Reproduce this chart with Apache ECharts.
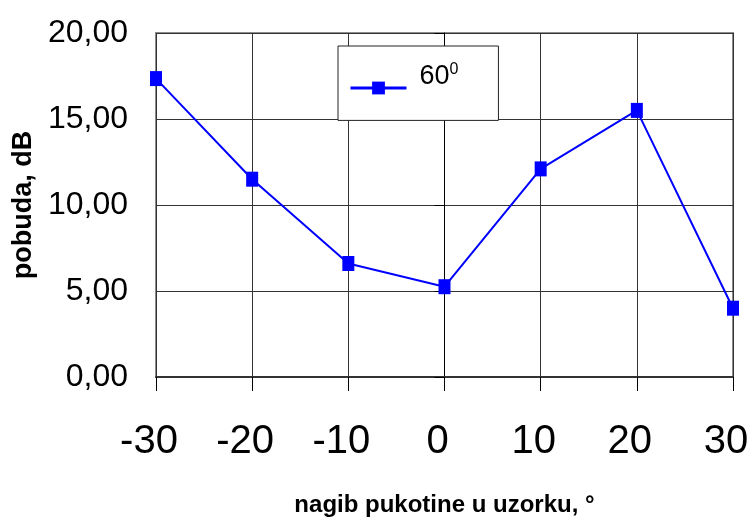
<!DOCTYPE html>
<html>
<head>
<meta charset="utf-8">
<script src="https://cdn.jsdelivr.net/npm/echarts@6/dist/echarts.min.js"></script>
<style>
html,body{margin:0;padding:0;background:#fff;}
#chart{width:749px;height:518px;}
</style>
</head>
<body>
<div id="chart"></div>
<script>
var xValues = [-30, -20, -10, 0, 10, 20, 30];
var yValues = [17.35, 11.5, 6.6, 5.25, 12.1, 15.5, 4.0];
var seriesName = '60';
var xTitle = 'nagib pukotine u uzorku, \u00b0';
var yTitle = 'pobuda, dB';

var chart = echarts.init(document.getElementById('chart'), null, {renderer: 'canvas'});
var FONT = 'Arial, "Liberation Sans", sans-serif';
chart.setOption({
  animation: false,
  backgroundColor: '#ffffff',
  grid: {left: 156, right: 16, top: 33, bottom: 141, show: true, borderColor: '#8c8c8c', borderWidth: 2,
    backgroundColor: 'transparent', containLabel: false, outerBoundsMode: 'none'},
  legend: {
    show: true,
    left: 338, top: 46,
    orient: 'horizontal',
    backgroundColor: '#ffffff',
    borderColor: '#222',
    borderWidth: 1,
    borderRadius: 0,
    padding: [16, 40, 26, 11],
    itemWidth: 56, itemHeight: 16, itemGap: 0,
    lineStyle: {width: 3},
    formatter: function (n) { return '{a|' + n + '}{b|0}'; },
    textStyle: {
      padding: [0, 0, 22, 8],
      rich: {
        a: {fontSize: 27, fontFamily: FONT, color: '#000'},
        b: {fontSize: 16, fontFamily: FONT, color: '#000', padding: [0, 0, 14, 0]}
      }
    },
    data: [{name: seriesName}]
  },
  xAxis: {
    type: 'value', min: -30, max: 30, interval: 10,
    name: xTitle, nameLocation: 'middle', nameGap: 116,
    nameTextStyle: {fontSize: 24, fontWeight: 'bold', fontFamily: FONT, color: '#000'},
    axisLine: {show: true, onZero: false, lineStyle: {color: '#333', width: 2}},
    axisTick: {show: true, inside: false, length: 14, lineStyle: {color: '#000', width: 1}},
    axisLabel: {fontSize: 40, fontFamily: FONT, color: '#000', margin: 45, padding: [0, 14, 0, 0]},
    splitLine: {show: true, lineStyle: {color: '#333', width: 1}}
  },
  yAxis: {
    type: 'value', min: 0, max: 20, interval: 5,
    name: yTitle, nameLocation: 'middle', nameGap: 106, nameRotate: 90,
    nameTextStyle: {fontSize: 27, fontWeight: 'bold', fontFamily: FONT, color: '#000'},
    axisLine: {show: true, lineStyle: {color: '#000', width: 1}},
    axisTick: {show: true, inside: false, length: 10, lineStyle: {color: '#000', width: 1}},
    axisLabel: {fontSize: 32, fontFamily: FONT, color: '#000', margin: 28,
      formatter: function (v) { return v.toFixed(2).replace('.', ','); }},
    splitLine: {show: true, lineStyle: {color: '#333', width: 1}}
  },
  series: [{
    name: seriesName,
    type: 'line',
    data: xValues.map(function (x, i) { return [x, yValues[i]]; }),
    symbol: 'rect',
    symbolSize: [12, 15],
    color: '#0000ff',
    itemStyle: {color: '#0000ff'},
    lineStyle: {color: '#0000ff', width: 2},
    clip: false
  }]
});
</script>
</body>
</html>
